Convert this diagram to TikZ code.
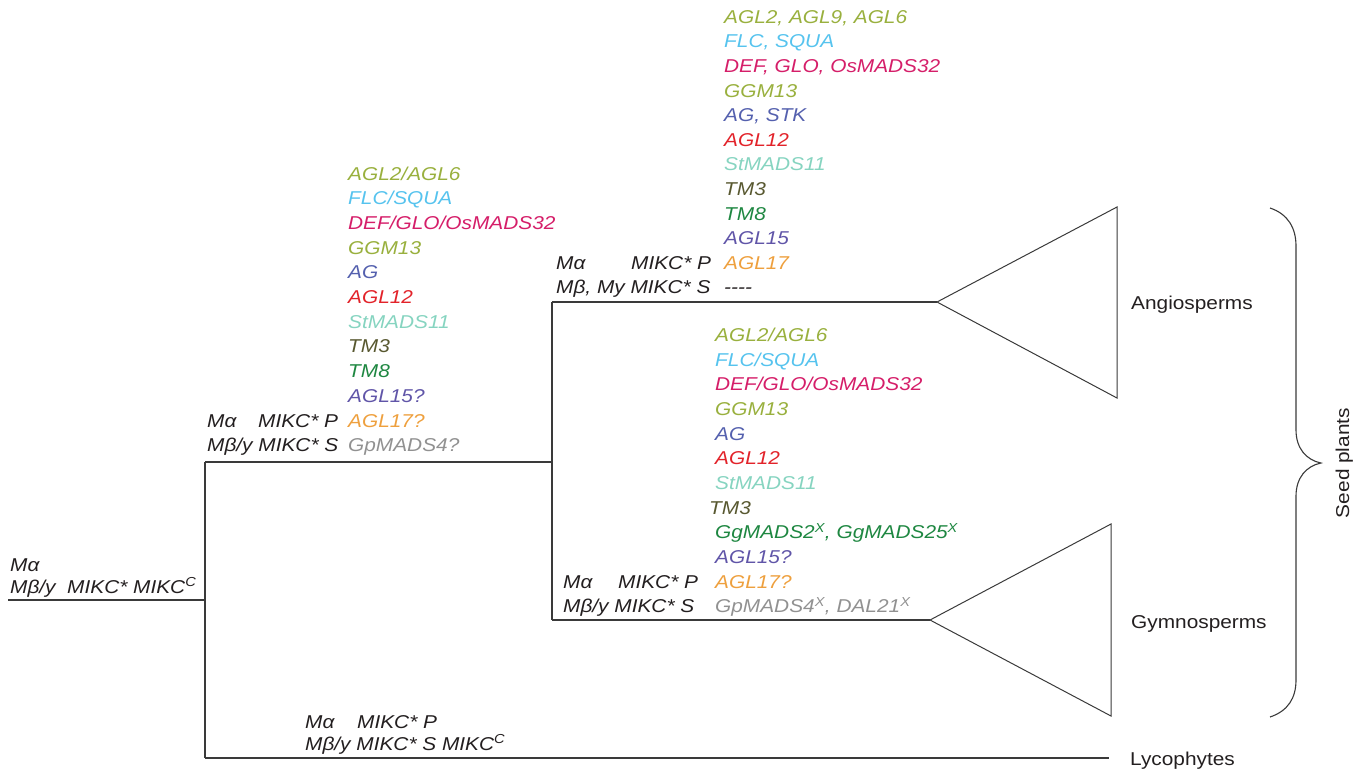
\documentclass[tikz,border=0pt]{standalone}
\usepackage{fontspec}
\setmainfont[FakeStretch=1.12]{Liberation Sans}
\definecolor{olive}{HTML}{99B03E}
\definecolor{lblue}{HTML}{56C3EE}
\definecolor{magen}{HTML}{D51E69}
\definecolor{agblue}{HTML}{5460AE}
\definecolor{gred}{HTML}{E2232A}
\definecolor{teal2}{HTML}{86D4C0}
\definecolor{dkolive}{HTML}{585830}
\definecolor{ggreen}{HTML}{1E8741}
\definecolor{purp}{HTML}{6055A8}
\definecolor{orng}{HTML}{EEA03E}
\definecolor{ggray}{HTML}{919191}
\definecolor{txt}{HTML}{231F20}
\definecolor{ln}{HTML}{3A3A3A}
\tikzset{
  base font/.style={font=\fontsize{18.6}{22}\selectfont, inner sep=0pt, anchor=base west},
  lbl/.style={base font, font=\fontsize{18.6}{22}\selectfont\itshape, text=txt},
  gene/.style={lbl, text=#1},
  taxon/.style={base font, text=txt},
  branch/.style={draw=ln, line width=1.2pt},
  clade/.style={draw=ln, line width=1pt, line join=miter},
}
\begin{document}
\begin{tikzpicture}[x=1pt,y=-1pt]
\useasboundingbox (0,0) rectangle (1363,772);
% tree coordinates
\coordinate (r0) at (8,600);
\coordinate (r1) at (205,600);
\coordinate (sp) at (205,462);
\coordinate (lyB) at (205,758);
\coordinate (lyE) at (1109,758);
\coordinate (sp2) at (552,462);
\coordinate (anB) at (552,302);
\coordinate (gyB) at (552,620);
\coordinate (anA) at (937,302);
\coordinate (anT) at (1117,207);
\coordinate (anD) at (1117,398);
\coordinate (gyA) at (930,620);
\coordinate (gyT) at (1111,524);
\coordinate (gyD) at (1111,716);
% branches
\draw[branch] (r0) -- (r1);
\draw[branch] (sp) -- (lyB);
\draw[branch] (sp) -- (sp2);
\draw[branch] (lyB) -- (lyE);
\draw[branch] (anB) -- (gyB);
\draw[branch] (anB) -- (anA);
\draw[branch] (gyB) -- (gyA);
% clades
\draw[clade] (anA) -- (anT) -- (anD) -- cycle;
\draw[clade] (gyA) -- (gyT) -- (gyD) -- cycle;
% brace
\draw[clade, line width=1.1pt] (1270,208) .. controls (1288,214) and (1296,228) .. (1296,246)
  -- (1296,430) .. controls (1296,448) and (1306,460) .. (1321,463)
  .. controls (1306,466) and (1296,478) .. (1296,496)
  -- (1296,680) .. controls (1296,698) and (1288,711) .. (1270,717);
% taxa
\node[taxon] (ang) at (1131,309.5) {Angiosperms};
\node[taxon] (gym) at (1131,628) {Gymnosperms};
\node[taxon] (lyc) at (1130,765) {Lycophytes};
\node[taxon, rotate=90, anchor=base] (seed) at (1349,463) {Seed plants};
% root labels
\node[lbl] (rtA) at (10,571) {Mα};
\node[lbl] (rtB) at (10,593) {Mβ/y\ \ MIKC* MIKC\textsuperscript{C}};
% lycophyte labels
\node[lbl] (lyA1) at (305,728) {Mα};
\node[lbl] (lyA2) at (357,728) {MIKC* P};
\node[lbl] (lyB1) at (305,750) {Mβ/y MIKC* S MIKC\textsuperscript{C}};
% seed plant ancestor
\foreach \c/\t [count=\i] in {olive/{AGL2/AGL6}, lblue/{FLC/SQUA}, magen/{DEF/GLO/OsMADS32},
   olive/{GGM13}, agblue/{AG}, gred/{AGL12}, teal2/{StMADS11}, dkolive/{TM3}, ggreen/{TM8},
   purp/{AGL15?}, orng/{AGL17?}, ggray/{GpMADS4?}}
  \node[gene=\c] (s\i) at ({348},{180+24.7*(\i-1)}) {\t};
\node[lbl] (sL1) at (207,427) {Mα};
\node[lbl] (sL2) at (258,427) {MIKC* P};
\node[lbl] (sL3) at (207,451.7) {Mβ/y MIKC* S};
% angiosperm ancestor
\foreach \c/\t [count=\i] in {olive/{AGL2, AGL9, AGL6}, lblue/{FLC, SQUA}, magen/{DEF, GLO, OsMADS32},
   olive/{GGM13}, agblue/{AG, STK}, gred/{AGL12}, teal2/{StMADS11}, dkolive/{TM3}, ggreen/{TM8},
   purp/{AGL15}, orng/{AGL17}, txt/{-\kern0pt-\kern0pt-\kern0pt-}}
  \node[gene=\c] (a\i) at ({724},{23.3+24.6*(\i-1)}) {\t};
\node[lbl] (aL1) at (556,269.3) {Mα};
\node[lbl] (aL2) at (631,269.3) {MIKC* P};
\node[lbl] (aL3) at (556,293.9) {Mβ, My MIKC* S};
% gymnosperm ancestor
\foreach \c/\t [count=\i] in {olive/{AGL2/AGL6}, lblue/{FLC/SQUA}, magen/{DEF/GLO/OsMADS32},
   olive/{GGM13}, agblue/{AG}, gred/{AGL12}, teal2/{StMADS11}, dkolive/{\hspace*{-6pt}TM3},
   ggreen/{GgMADS2\textsuperscript{X}, GgMADS25\textsuperscript{X}},
   purp/{AGL15?}, orng/{AGL17?}, ggray/{GpMADS4\textsuperscript{X}, DAL21\textsuperscript{X}}}
  \node[gene=\c] (g\i) at ({715},{341.6+24.65*(\i-1)}) {\t};
\node[lbl] (gL1) at (563,588) {Mα};
\node[lbl] (gL2) at (618,588) {MIKC* P};
\node[lbl] (gL3) at (563,612.7) {Mβ/y MIKC* S};
\end{tikzpicture}
\end{document}
